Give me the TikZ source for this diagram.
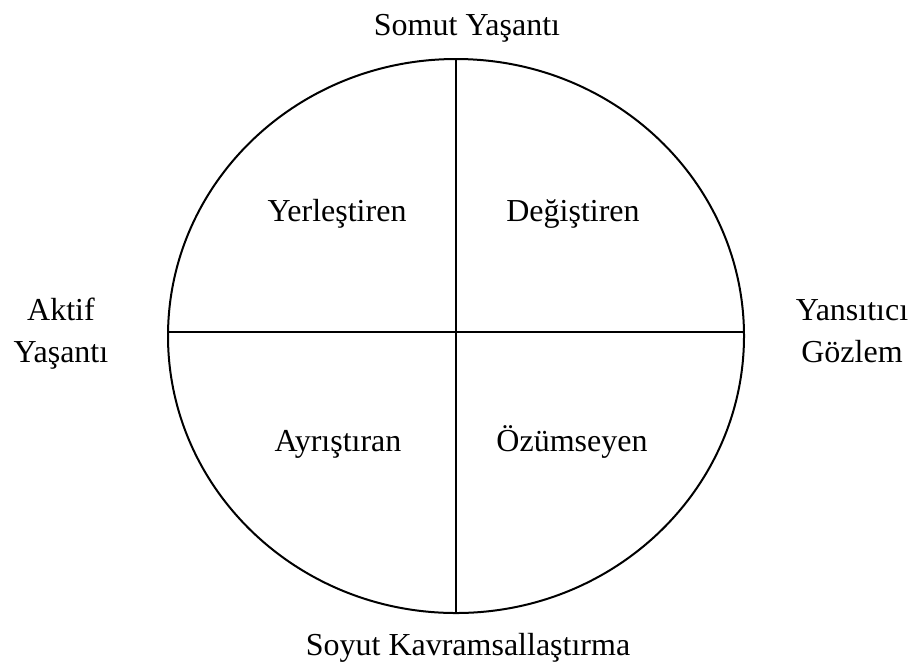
\documentclass[tikz,border=0pt]{standalone}
\usepackage{fontspec}
\setmainfont{Liberation Serif}
\begin{document}
\begin{tikzpicture}[x=0.5pt,y=-0.5pt,line width=1pt,
  lbl/.style={anchor=base,inner sep=0pt,font=\fontsize{16}{21}\selectfont},
  side/.style={lbl,align=center}]
  \useasboundingbox (0,0) rectangle (914,666);
  % circle and axes
  \coordinate (c) at (456,336);
  \coordinate (top) at (456,59);
  \coordinate (bot) at (456,613);
  \coordinate (lft) at (168,332);
  \coordinate (rgt) at (744,332);
  \draw (c) ellipse [x radius=288, y radius=277];
  \draw (top) -- (bot);
  \draw (lft) -- (rgt);
  % poles
  \node[lbl] (somut) at (467,35) {Somut Yaşantı};
  \node[lbl] (soyut) at (468,655) {Soyut Kavramsallaştırma};
  \node[side] (aktif) at (61,362) {Aktif\\Yaşantı};
  \node[side] (yansit) at (852,362) {Yansıtıcı\\Gözlem};
  % quadrants
  \node[lbl] (yerles) at (337,221) {Yerleştiren};
  \node[lbl] (degis) at (573,221) {Değiştiren};
  \node[lbl] (ayris) at (338,451) {Ayrıştıran};
  \node[lbl] (ozum) at (572,451) {Özümseyen};
\end{tikzpicture}
\end{document}
